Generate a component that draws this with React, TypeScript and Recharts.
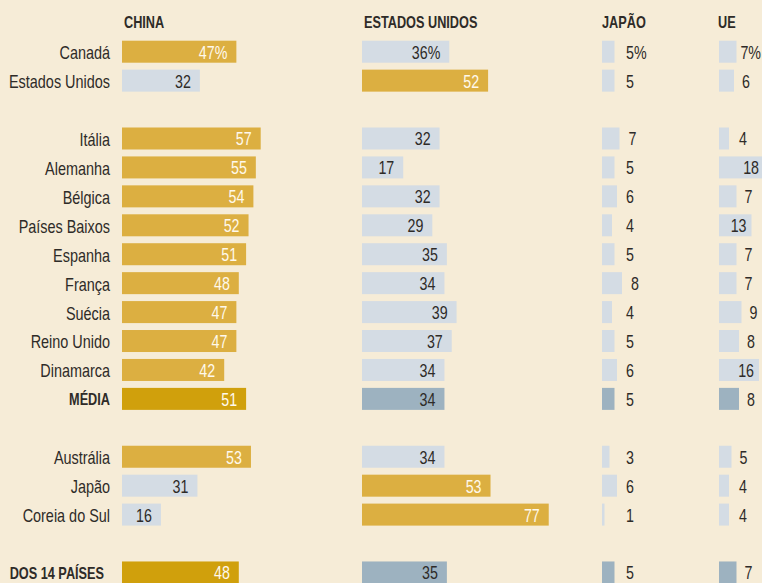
import { BarChart, Bar, XAxis, YAxis } from 'recharts'

// Liberation Sans squeezed horizontally stands in for the condensed grotesque of the original
const FONT = '"Liberation Sans", Arial, sans-serif'
const SQUEEZE = 0.78

const BG = '#f6ecd7'
const GOLD = '#dcaf41'
const GOLD_DARK = '#d0a00c'
const GREY = '#d4dce4'
const GREY_DARK = '#9db2c0'
const INK = '#2e2b28'
const ON_GOLD = '#fff9ec'

// one entry per row; '' rows are the gaps between groups
const countries = [
  'Canadá', 'Estados Unidos', '',
  'Itália', 'Alemanha', 'Bélgica', 'Países Baixos', 'Espanha', 'França',
  'Suécia', 'Reino Unido', 'Dinamarca', 'MÉDIA', '',
  'Austrália', 'Japão', 'Coreia do Sul', '',
  'DOS 14 PAÍSES',
]
const china = [47, 32, null, 57, 55, 54, 52, 51, 48, 47, 47, 42, 51, null, 53, 31, 16, null, 48]
const eua = [36, 52, null, 32, 17, 32, 29, 35, 34, 39, 37, 34, 34, null, 34, 53, 77, null, 35]
const japao = [5, 5, null, 7, 5, 6, 4, 5, 8, 4, 5, 6, 5, null, 3, 6, 1, null, 5]
const ue = [7, 6, null, 4, 18, 7, 13, 7, 7, 9, 8, 16, 8, null, 5, 4, 4, null, 7]

const summaryRows = ['MÉDIA', 'DOS 14 PAÍSES']
const titles = ['CHINA', 'ESTADOS UNIDOS', 'JAPÃO', 'UE']

type Key = 'china' | 'eua' | 'japao' | 'ue'
type Row = { label: string; china: number | null; eua: number | null; japao: number | null; ue: number | null }

const rows: Row[] = countries.map((label, i) => ({
  label,
  china: china[i],
  eua: eua[i],
  japao: japao[i],
  ue: ue[i],
}))

const keys: Key[] = ['china', 'eua', 'japao', 'ue']

function isLeader(row: Row, key: Key) {
  const max = Math.max(...keys.map((k) => row[k] ?? -1))
  return row[key] === max
}

function barColor(row: Row, key: Key) {
  const summary = summaryRows.includes(row.label)
  if (isLeader(row, key)) return summary ? GOLD_DARK : GOLD
  return summary ? GREY_DARK : GREY
}

const VALUE_SIZE = 19
const VALUE_SQUEEZE = 0.75

// rough width of a value label (digits + optional %)
function valueWidth(s: string) {
  let em = 0
  for (const ch of s) em += ch === '%' ? 0.889 : 0.556
  return em * VALUE_SIZE * VALUE_SQUEEZE
}

function NarrowText({ x, y, anchor = 'start', size = 18.5, weight = 400, fill = INK, squeeze = SQUEEZE, children }: any) {
  return (
    <text
      transform={`translate(${x},${y}) scale(${squeeze},1)`}
      x={0}
      y={0}
      textAnchor={anchor}
      fontFamily={FONT}
      fontSize={size}
      fontWeight={weight}
      fill={fill}
    >
      {children}
    </text>
  )
}

type Mode = 'inside' | 'after' | 'ue'

const columns: { key: Key; left: number; max: number; plotW: number; right: number; mode: Mode; minLabel: number }[] = [
  { key: 'china', left: 0, max: 60, plotW: 146, right: 12, mode: 'inside', minLabel: 0 },
  { key: 'eua', left: 362, max: 80, plotW: 194, right: 12, mode: 'inside', minLabel: 0 },
  { key: 'japao', left: 602, max: 10, plotW: 25, right: 50, mode: 'after', minLabel: 24 },
  { key: 'ue', left: 719, max: 20, plotW: 50, right: 40, mode: 'ue', minLabel: 20 },
]

const CHART_H = 600
const TOP = 37.7
const PLOT_H = 549.7
const AXIS_W = 122
const UE_ROOM = 42

function makeShape(key: Key, mode: Mode, minLabel: number) {
  return (props: any) => {
    const { x, y, width, height, payload, index } = props
    const row = payload as Row
    const v = row[key]
    if (v == null) return <g />
    const fill = barColor(row, key)
    const text = index === 0 ? `${v}%` : `${v}`
    const ty = y + height / 2 + 7
    const leader = isLeader(row, key)
    let tx = x + width - 9
    let anchor: 'end' | 'start' = 'end'
    if (mode === 'after') {
      tx = Math.max(x + width + 9, minLabel)
      anchor = 'start'
    } else if (mode === 'ue') {
      if (v >= 10) {
        tx = x + width - 5
      } else {
        tx = Math.min(Math.max(x + width + 8, minLabel), UE_ROOM - valueWidth(text))
        anchor = 'start'
      }
    }
    return (
      <g>
        <rect x={x} y={y} width={Math.max(width, 0)} height={height} fill={fill} />
        <NarrowText
          x={tx}
          y={ty}
          anchor={anchor}
          size={VALUE_SIZE}
          squeeze={VALUE_SQUEEZE}
          fill={leader ? ON_GOLD : INK}
        >
          {text}
        </NarrowText>
      </g>
    )
  }
}

function CountryTick(props: any) {
  const { x, y, payload } = props
  const label: string = payload.value
  const bold = summaryRows.includes(label)
  const shift = label === 'DOS 14 PAÍSES' ? 6 : 0
  return (
    <NarrowText
      x={x - shift}
      y={y + (bold ? 6 : 7)}
      anchor="end"
      size={bold ? 16.5 : 18.5}
      weight={bold ? 700 : 400}
      squeeze={bold ? 0.77 : SQUEEZE}
    >
      {label}
    </NarrowText>
  )
}

export default function App() {
  return (
    <div
      style={{
        position: 'absolute',
        left: 0,
        top: 0,
        width: 762,
        height: 583,
        overflow: 'hidden',
        background: BG,
      }}
    >
      {columns.map((col) => {
        const axisW = col.key === 'china' ? AXIS_W : 0
        const w = axisW + col.plotW + col.right
        return (
          <div key={col.key} style={{ position: 'absolute', left: col.left, top: 0 }}>
            <BarChart
              width={w}
              height={CHART_H}
              data={rows}
              layout="vertical"
              margin={{ top: TOP, right: col.right, bottom: CHART_H - TOP - PLOT_H, left: 0 }}
              barSize={22}
            >
              <XAxis type="number" domain={[0, col.max]} hide />
              <YAxis
                type="category"
                dataKey="label"
                hide={col.key !== 'china'}
                width={axisW}
                interval={0}
                axisLine={false}
                tickLine={false}
                tickSize={0}
                tickMargin={12}
                tick={<CountryTick />}
              />
              <Bar dataKey={col.key} isAnimationActive={false} shape={makeShape(col.key, col.mode, col.minLabel)} />
            </BarChart>
          </div>
        )
      })}
      <svg width={762} height={583} style={{ position: 'absolute', left: 0, top: 0, pointerEvents: 'none' }}>
        {titles.map((t, i) => (
          <NarrowText key={t} x={[124, 364, 602, 718][i]} y={28} size={16.5} weight={700} squeeze={0.77}>
            {t}
          </NarrowText>
        ))}
      </svg>
    </div>
  )
}
